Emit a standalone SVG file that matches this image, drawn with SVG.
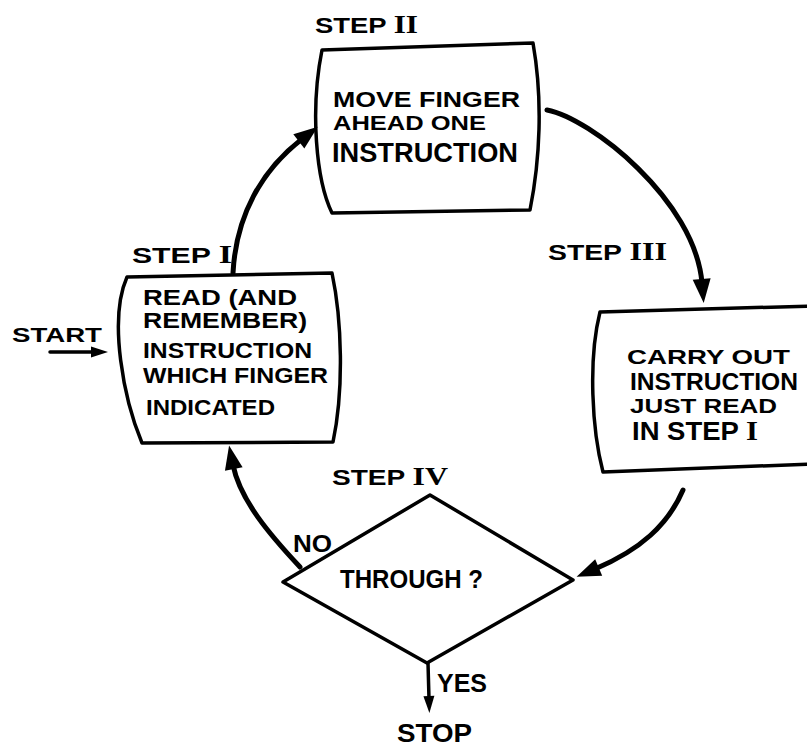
<svg xmlns="http://www.w3.org/2000/svg" width="807" height="747" viewBox="0 0 807 747">
  <style>
    .t { font-family: "Liberation Sans", Arial, sans-serif; font-weight: bold; fill: #000; }
    .rn { font-family: "Liberation Serif", "Times New Roman", serif; font-weight: bold; }
    .box { fill: #fff; stroke: #000; stroke-width: 3.5; stroke-linejoin: round; }
    .flow { fill: none; stroke: #000; stroke-width: 5; stroke-linecap: round; }
    .thin { fill: none; stroke: #000; stroke-width: 3.5; stroke-linecap: round; }
  </style>
  <defs>
    <!-- large head for the loop connectors -->
    <marker id="head" markerUnits="userSpaceOnUse" markerWidth="30" markerHeight="24" refX="4" refY="10" orient="auto" overflow="visible">
      <path d="M0,1 L24,10 L0,19 Z" fill="#000"/>
    </marker>
    <!-- small head for START and YES -->
    <marker id="headS" markerUnits="userSpaceOnUse" markerWidth="20" markerHeight="14" refX="3" refY="5.5" orient="auto" overflow="visible">
      <path d="M0,0 L17,5.5 L0,11 Z" fill="#000"/>
    </marker>
  </defs>

  <rect width="807" height="747" fill="#fff"/>

  <!-- Step I -->
  <g id="step1">
    <text class="t" x="132" y="263" font-size="22" textLength="100" lengthAdjust="spacingAndGlyphs">STEP <tspan class="rn" font-size="25">I</tspan></text>
    <path class="box" d="M127,277 L332,273 C342,320 344,390 333,442 L142,443 C124,400 108,320 127,277 Z"/>
    <text class="t" x="143" y="305" font-size="22" textLength="154" lengthAdjust="spacingAndGlyphs">READ (AND</text>
    <text class="t" x="143" y="328" font-size="22" textLength="164" lengthAdjust="spacingAndGlyphs">REMEMBER)</text>
    <text class="t" x="143" y="358" font-size="22" textLength="169" lengthAdjust="spacingAndGlyphs">INSTRUCTION</text>
    <text class="t" x="143" y="383" font-size="22" textLength="185" lengthAdjust="spacingAndGlyphs">WHICH FINGER</text>
    <text class="t" x="146" y="415" font-size="22" textLength="129" lengthAdjust="spacingAndGlyphs">INDICATED</text>
  </g>

  <!-- Step II -->
  <g id="step2">
    <text class="t" x="315" y="33" font-size="22" textLength="103" lengthAdjust="spacingAndGlyphs">STEP <tspan class="rn" font-size="25">II</tspan></text>
    <path class="box" d="M322,50 L533,43 C543,100 540,160 530,210 L332,213 C316,180 310,110 322,50 Z"/>
    <text class="t" x="333" y="107" font-size="22" textLength="187" lengthAdjust="spacingAndGlyphs">MOVE FINGER</text>
    <text class="t" x="333" y="130" font-size="20" textLength="153" lengthAdjust="spacingAndGlyphs">AHEAD ONE</text>
    <text class="t" x="332" y="162" font-size="27" textLength="186" lengthAdjust="spacingAndGlyphs">INSTRUCTION</text>
  </g>

  <!-- Step III -->
  <g id="step3">
    <text class="t" x="548" y="260" font-size="22" textLength="119" lengthAdjust="spacingAndGlyphs">STEP <tspan class="rn" font-size="25">III</tspan></text>
    <path class="box" d="M600,312 L812,306 L812,464 L603,472 C592,430 588,360 600,312 Z"/>
    <text class="t" x="627" y="364" font-size="21" textLength="163" lengthAdjust="spacingAndGlyphs">CARRY OUT</text>
    <text class="t" x="630" y="390" font-size="24" textLength="168" lengthAdjust="spacingAndGlyphs">INSTRUCTION</text>
    <text class="t" x="630" y="413" font-size="21" textLength="147" lengthAdjust="spacingAndGlyphs">JUST READ</text>
    <text class="t" x="632" y="440" font-size="25" textLength="126" lengthAdjust="spacingAndGlyphs">IN STEP <tspan class="rn" font-size="28">I</tspan></text>
  </g>

  <!-- Step IV decision -->
  <g id="step4">
    <text class="t" x="332" y="485" font-size="22" textLength="116" lengthAdjust="spacingAndGlyphs">STEP <tspan class="rn" font-size="25">IV</tspan></text>
    <polygon class="box" points="283,582 430,495 573,580 427,663"/>
    <text class="t" x="340" y="588" font-size="25" textLength="143" lengthAdjust="spacingAndGlyphs">THROUGH ?</text>
  </g>

  <!-- Terminals -->
  <g id="start">
    <text class="t" x="12" y="342" font-size="20" textLength="90" lengthAdjust="spacingAndGlyphs">START</text>
  </g>
  <g id="stop">
    <text class="t" x="397" y="742" font-size="26" textLength="75" lengthAdjust="spacingAndGlyphs">STOP</text>
  </g>

  <!-- Connectors -->
  <g id="connectors">
    <path class="thin" d="M50,352 L94,352" marker-end="url(#headS)"/>
    <path class="flow" d="M233,273 C236,215 262,170 302,139" marker-end="url(#head)"/>
    <path class="flow" d="M547,110 C590,118 695,200 702,283" marker-end="url(#head)"/>
    <path class="flow" d="M683,490 C668,525 640,550 595,569" marker-end="url(#head)"/>
    <path class="flow" d="M300,567 C270,535 240,500 233,465" marker-end="url(#head)"/>
    <path class="thin" d="M428,663 L429,699" marker-end="url(#headS)"/>
    <text class="t" x="293" y="552" font-size="23" textLength="39" lengthAdjust="spacingAndGlyphs">NO</text>
    <text class="t" x="437" y="692" font-size="26" textLength="50" lengthAdjust="spacingAndGlyphs">YES</text>
  </g>
</svg>
